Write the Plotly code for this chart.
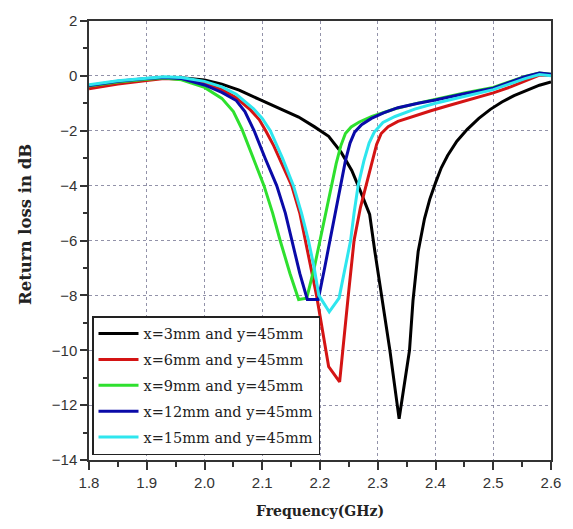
import plotly.graph_objects as go

# Return loss vs frequency for five slot positions (y fixed at 45 mm)
f_3mm = [1.80, 1.85, 1.90, 1.93, 1.96, 2.00, 2.03, 2.06, 2.094, 2.13, 2.163, 2.19, 2.215,
         2.237, 2.255, 2.27, 2.286, 2.295, 2.308, 2.321, 2.337, 2.355, 2.361, 2.37, 2.381,
         2.39, 2.40, 2.41, 2.421, 2.437, 2.455, 2.475, 2.495, 2.515, 2.536, 2.56, 2.58, 2.60]
s_3mm = [-0.36, -0.22, -0.11, -0.06, -0.07, -0.15, -0.3, -0.52, -0.85, -1.2, -1.5, -1.85, -2.2,
         -2.8, -3.45, -4.2, -5.05, -6.4, -8.2, -10.0, -12.5, -10.0, -8.2, -6.4, -5.2,
         -4.5, -3.9, -3.35, -2.9, -2.38, -1.95, -1.55, -1.22, -0.95, -0.72, -0.5, -0.34, -0.22]

f_6mm = [1.80, 1.85, 1.90, 1.93, 1.96, 2.00, 2.03, 2.055, 2.08, 2.095, 2.106, 2.12, 2.135,
         2.151, 2.165, 2.175, 2.194, 2.215, 2.234, 2.249, 2.259, 2.27, 2.28, 2.29, 2.298,
         2.306, 2.318, 2.335, 2.36, 2.392, 2.42, 2.45, 2.50, 2.53, 2.555, 2.58, 2.60]
s_6mm = [-0.47, -0.3, -0.17, -0.1, -0.12, -0.28, -0.5, -0.8, -1.25, -1.6, -2.0, -2.55, -3.25,
         -4.0, -5.0, -6.0, -8.0, -10.6, -11.15, -8.0, -6.0, -4.8, -4.0, -3.1, -2.5,
         -2.1, -1.85, -1.66, -1.48, -1.27, -1.1, -0.92, -0.62, -0.4, -0.18, 0.03, 0.02]

f_9mm = [1.80, 1.85, 1.90, 1.93, 1.96, 2.00, 2.03, 2.05, 2.065, 2.085, 2.103, 2.118, 2.131,
         2.148, 2.163, 2.177, 2.19, 2.20, 2.21, 2.219, 2.228, 2.236, 2.244, 2.254, 2.268,
         2.29, 2.33, 2.364, 2.40, 2.45, 2.50, 2.53, 2.555, 2.58, 2.60]
s_9mm = [-0.37, -0.22, -0.12, -0.08, -0.14, -0.42, -0.82, -1.3, -1.95, -3.0, -4.0, -5.0, -6.0,
         -7.2, -8.15, -8.1, -7.0, -6.0, -5.0, -4.0, -3.2, -2.55, -2.1, -1.86, -1.68,
         -1.48, -1.2, -1.02, -0.85, -0.62, -0.42, -0.2, -0.02, 0.1, 0.06]

f_12mm = [1.80, 1.85, 1.90, 1.93, 1.96, 2.00, 2.03, 2.055, 2.07, 2.086, 2.105, 2.125, 2.14,
          2.151, 2.165, 2.178, 2.197, 2.208, 2.217, 2.226, 2.235, 2.244, 2.252, 2.26, 2.272,
          2.289, 2.31, 2.335, 2.37, 2.40, 2.45, 2.50, 2.53, 2.555, 2.58, 2.60]
s_12mm = [-0.35, -0.2, -0.1, -0.06, -0.1, -0.33, -0.6, -0.9, -1.3, -2.0, -3.0, -4.0, -5.0,
          -6.0, -7.2, -8.15, -8.15, -7.0, -6.0, -5.0, -4.0, -3.1, -2.45, -2.05, -1.78,
          -1.55, -1.35, -1.16, -1.0, -0.88, -0.65, -0.45, -0.22, -0.03, 0.1, 0.06]

f_15mm = [1.80, 1.85, 1.90, 1.93, 1.96, 2.00, 2.03, 2.055, 2.085, 2.10, 2.114, 2.135, 2.154,
          2.168, 2.18, 2.19, 2.198, 2.216, 2.233, 2.243, 2.253, 2.259, 2.266, 2.276, 2.285,
          2.294, 2.309, 2.33, 2.364, 2.40, 2.45, 2.50, 2.53, 2.555, 2.58, 2.60]
s_15mm = [-0.32, -0.18, -0.09, -0.03, -0.06, -0.2, -0.4, -0.67, -1.2, -1.55, -2.0, -3.0, -4.0,
          -5.0, -6.0, -7.0, -8.0, -8.6, -8.1, -7.0, -6.0, -5.0, -4.0, -3.1, -2.45,
          -2.05, -1.7, -1.48, -1.21, -1.0, -0.74, -0.5, -0.28, -0.1, 0.05, 0.0]

labels = ["x=3mm and y=45mm", "x=6mm and y=45mm", "x=9mm and y=45mm",
          "x=12mm and y=45mm", "x=15mm and y=45mm"]
colors = ["#000000", "#d41414", "#2ee02e", "#0a0aa8", "#2ee6ee"]

series = [(f_3mm, s_3mm), (f_6mm, s_6mm), (f_9mm, s_9mm), (f_12mm, s_12mm), (f_15mm, s_15mm)]

fig = go.Figure()
for i, ((fx, sy), name, col) in enumerate(zip(series, labels, colors)):
    fig.add_trace(go.Scatter(
        x=fx, y=sy, mode="lines", name=name, legendgroup=f"g{i}",
        line=dict(color=col, width=3),
    ))

tick_font = dict(family="Liberation Sans, Arial, sans-serif", size=15, color="#333333")
title_font = dict(family="DejaVu Serif, serif", size=14, color="#222222")
grid_color = "rgba(110,110,140,0.75)"

fig.update_layout(
    width=573, height=529,
    margin=dict(l=89, r=19, t=18, b=67),
    paper_bgcolor="white", plot_bgcolor="white",
    showlegend=True,
    legend=dict(
        x=0.0065, y=0.011, xanchor="left", yanchor="bottom",
        bgcolor="white", bordercolor="#222222", borderwidth=1.5,
        font=dict(family="DejaVu Serif, serif", size=14.5, color="#222222"),
        traceorder="grouped", tracegroupgap=4,
        itemwidth=40,
    ),
    xaxis=dict(
        range=[1.8, 2.6], dtick=0.1, tick0=1.8, tickformat=".1f",
        showline=True, linecolor="#333333", linewidth=1.5, mirror=True,
        ticks="outside", ticklen=8, tickwidth=1.5, tickcolor="#333333",
        showgrid=True, gridcolor=grid_color, griddash="dot", gridwidth=1,
        zeroline=False, tickfont=tick_font,
        minor=dict(dtick=0.05, ticks="outside", ticklen=5, tickwidth=1.5,
                   tickcolor="#333333", showgrid=False),
        title=dict(text="<b>Frequency(GHz)</b>", font=title_font, standoff=16),
    ),
    yaxis=dict(
        range=[-14, 2], dtick=2, tick0=0,
        showline=True, linecolor="#333333", linewidth=1.5, mirror=True,
        ticks="outside", ticklen=7, tickwidth=1.5, tickcolor="#333333",
        showgrid=True, gridcolor=grid_color, griddash="dot", gridwidth=1,
        zeroline=False, tickfont=tick_font,
        minor=dict(dtick=1, ticks="outside", ticklen=4, tickwidth=1.5,
                   tickcolor="#333333", showgrid=False),
    ),
    annotations=[dict(
        text="<b>Return loss in dB</b>", textangle=-90,
        xref="paper", yref="paper", x=-0.139, y=0.537,
        xanchor="center", yanchor="middle", showarrow=False,
        font=dict(family="DejaVu Serif, serif", size=16.5, color="#222222"),
    )],
)

fig.write_html("out.html")
